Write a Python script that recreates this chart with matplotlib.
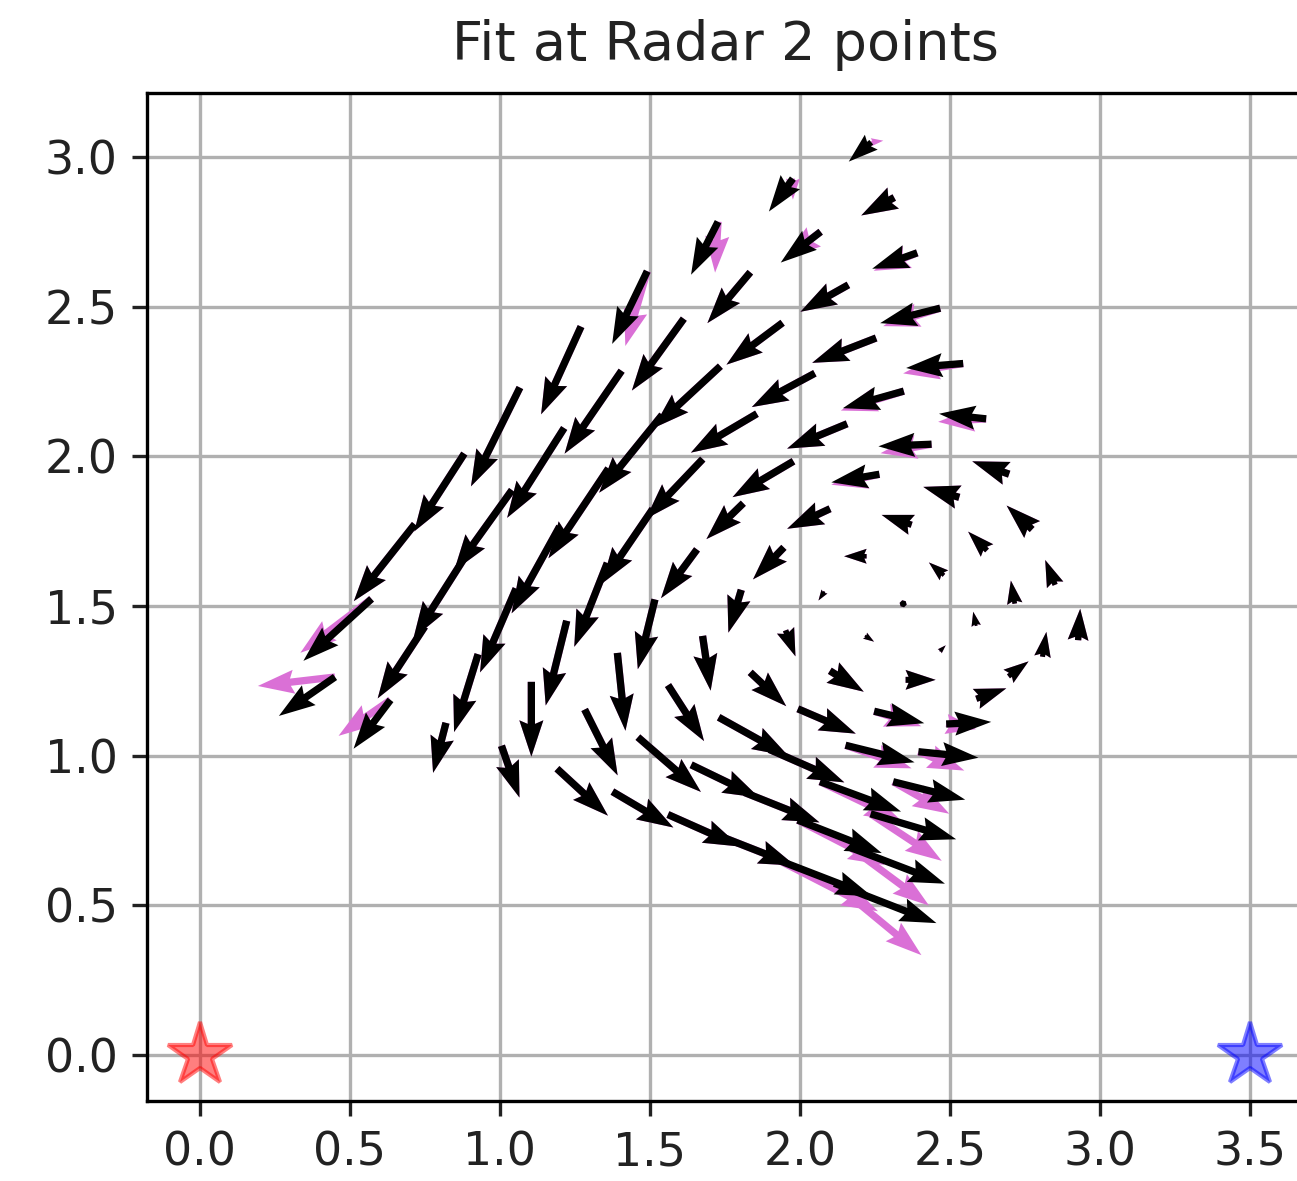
import numpy as np
import matplotlib
matplotlib.use("Agg")
import matplotlib.pyplot as plt

# Radar 2 sits at (3.5, 0); its sample points lie on beams (deg) and range gates
RADAR1 = (0.0, 0.0)
RADAR2 = (3.5, 0.0)
AZIMUTHS = [112.5, 117.5, 122.5, 127.5, 132.5, 137.5, 142.5, 147.5, 152.5, 157.5]
RANGES = [1.5, 1.7, 1.9, 2.1, 2.3, 2.5, 2.7, 2.9, 3.1, 3.3]

# Fitted wind components, one row per beam, one column per range gate
FIT_U = [
    [0.007, -0.033, -0.085, -0.123, -0.157, -0.190, -0.200, -0.150, -0.110, -0.075],
    [0.013, -0.013, -0.063, -0.120, -0.177, -0.203, -0.213, -0.160, -0.133, -0.080],
    [0.067, -0.010, -0.050, -0.100, -0.160, -0.200, -0.210, -0.187, -0.143, -0.090],
    [0.100, 0.020, 0.010, -0.075, -0.143, -0.203, -0.220, -0.223, -0.173, -0.117],
    [0.150, 0.100, 0.030, -0.020, -0.103, -0.123, -0.190, -0.210, -0.190, -0.133],
    [0.200, 0.167, 0.113, 0.033, -0.043, -0.120, -0.170, -0.200, -0.190, -0.163],
    [0.240, 0.230, 0.193, 0.120, 0.027, -0.057, -0.110, -0.160, -0.193, -0.167],
    [0.285, 0.270, 0.250, 0.233, 0.120, 0.027, -0.070, -0.120, -0.173, -0.203],
    [0.313, 0.280, 0.250, 0.227, 0.210, 0.110, 0.000, -0.080, -0.157, -0.227],
    [0.340, 0.310, 0.239, 0.240, 0.203, 0.170, 0.060, -0.043, -0.123, -0.187],
]
FIT_V = [
    [0.105, 0.083, 0.080, 0.043, 0.017, -0.015, -0.050, -0.053, -0.060, -0.065],
    [0.083, 0.077, 0.063, 0.035, -0.007, -0.057, -0.083, -0.090, -0.103, -0.110],
    [0.050, 0.047, 0.043, 0.033, -0.027, -0.083, -0.113, -0.140, -0.170, -0.177],
    [0.035, 0.020, 0.010, 0.000, -0.067, -0.120, -0.130, -0.207, -0.240, -0.243],
    [0.007, 0.000, -0.020, -0.030, -0.107, -0.120, -0.200, -0.260, -0.277, -0.293],
    [-0.020, -0.040, -0.070, -0.087, -0.143, -0.163, -0.250, -0.300, -0.300, -0.330],
    [-0.060, -0.057, -0.083, -0.113, -0.183, -0.233, -0.280, -0.290, -0.270, -0.260],
    [-0.085, -0.100, -0.110, -0.130, -0.187, -0.260, -0.283, -0.280, -0.273, -0.257],
    [-0.120, -0.110, -0.100, -0.110, -0.183, -0.220, -0.250, -0.260, -0.240, -0.207],
    [-0.133, -0.120, -0.094, -0.107, -0.120, -0.157, -0.173, -0.167, -0.163, -0.130],
]

# True wind components at the same points
TRUE_U = [
    [0.007, -0.033, -0.085, -0.123, -0.160, -0.200, -0.190, -0.145, -0.110, 0.040],
    [0.013, -0.013, -0.063, -0.120, -0.170, -0.210, -0.213, -0.160, -0.120, 0.000],
    [0.067, -0.010, -0.050, -0.100, -0.160, -0.200, -0.210, -0.187, -0.143, -0.010],
    [0.100, 0.020, 0.010, -0.075, -0.143, -0.203, -0.220, -0.223, -0.173, -0.073],
    [0.100, 0.100, 0.030, -0.020, -0.103, -0.123, -0.190, -0.210, -0.190, -0.133],
    [0.153, 0.157, 0.113, 0.033, -0.043, -0.120, -0.170, -0.200, -0.190, -0.163],
    [0.187, 0.220, 0.193, 0.120, 0.027, -0.057, -0.110, -0.160, -0.193, -0.167],
    [0.237, 0.270, 0.250, 0.233, 0.120, 0.027, -0.070, -0.120, -0.173, -0.203],
    [0.260, 0.290, 0.250, 0.227, 0.210, 0.110, 0.000, -0.080, -0.157, -0.237],
    [0.290, 0.330, 0.239, 0.240, 0.203, 0.170, 0.060, -0.043, -0.173, -0.257],
]
TRUE_V = [
    [0.105, 0.083, 0.080, 0.043, -0.010, -0.033, -0.060, -0.060, -0.060, 0.005],
    [0.083, 0.077, 0.063, 0.035, -0.030, -0.065, -0.083, -0.090, -0.090, -0.070],
    [0.050, 0.047, 0.043, 0.033, -0.035, -0.083, -0.113, -0.140, -0.170, -0.170],
    [0.035, 0.020, 0.010, 0.000, -0.067, -0.120, -0.130, -0.207, -0.240, -0.250],
    [-0.017, 0.000, -0.020, -0.030, -0.107, -0.120, -0.200, -0.260, -0.277, -0.293],
    [-0.063, -0.050, -0.070, -0.087, -0.143, -0.163, -0.250, -0.300, -0.300, -0.330],
    [-0.107, -0.077, -0.083, -0.113, -0.183, -0.233, -0.280, -0.290, -0.270, -0.260],
    [-0.157, -0.130, -0.110, -0.130, -0.187, -0.260, -0.283, -0.280, -0.273, -0.257],
    [-0.193, -0.150, -0.100, -0.110, -0.183, -0.220, -0.250, -0.260, -0.240, -0.180],
    [-0.240, -0.170, -0.094, -0.107, -0.120, -0.157, -0.173, -0.167, -0.120, -0.030],
]

az = np.deg2rad(np.array(AZIMUTHS))[:, None]
rng = np.array(RANGES)[None, :]
px = (RADAR2[0] + rng * np.cos(az)).ravel()
py = (RADAR2[1] + rng * np.sin(az)).ravel()

fig = plt.figure(figsize=(1297 / 300, 1181 / 300), dpi=300)
ax = fig.add_axes([147 / 1297, 80 / 1181, 1156 / 1297, 1008 / 1181])

quiver_kw = dict(angles="xy", scale_units="xy", scale=1, width=0.0063,
                 headwidth=3.3, headlength=5, headaxislength=4.5)
ax.quiver(px, py, np.ravel(TRUE_U), np.ravel(TRUE_V), color="orchid", zorder=3, **quiver_kw)
ax.quiver(px, py, np.ravel(FIT_U), np.ravel(FIT_V), color="black", zorder=4, **quiver_kw)

ax.plot(*RADAR1, marker="*", color="red", markersize=16, alpha=0.5, linestyle="none", zorder=5)
ax.plot(*RADAR2, marker="*", color="blue", markersize=16, alpha=0.5, linestyle="none", zorder=5)

ax.set_xlim(-0.175, 3.675)
ax.set_ylim(-0.153, 3.213)
ax.set_xticks(np.arange(0, 3.51, 0.5))
ax.set_yticks(np.arange(0, 3.01, 0.5))
ax.tick_params(labelsize=11, colors="#222222", labelcolor="#222222")
ax.grid(True)
ax.set_axisbelow(True)
ax.set_title("Fit at Radar 2 points", fontsize=13, pad=8, color="#222222")

fig.savefig("out.png", dpi=300)
